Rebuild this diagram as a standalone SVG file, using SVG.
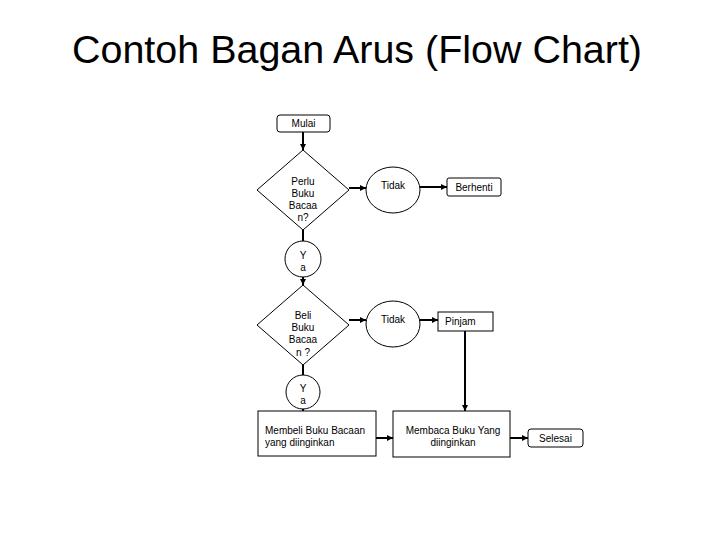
<svg xmlns="http://www.w3.org/2000/svg" width="720" height="540" viewBox="0 0 720 540">
<style>
.t{font-family:"Liberation Sans",Arial,sans-serif;font-size:10px;fill:#000}
.s{fill:#fff;stroke:#000;stroke-width:1}
.c{stroke:#000;stroke-width:2;fill:none}
</style>
<defs>
<marker id="ah" viewBox="0 0 6 6" refX="6" refY="3" markerWidth="6" markerHeight="6" markerUnits="userSpaceOnUse" orient="auto">
<path d="M0,0 L6,3 L0,6 Z" fill="#000"/>
</marker>
</defs>
<rect width="720" height="540" fill="#fff"/>
<text x="357" y="63" text-anchor="middle" font-family="Liberation Sans, Arial, sans-serif" font-size="38" textLength="570" lengthAdjust="spacingAndGlyphs">Contoh Bagan Arus (Flow Chart)</text>

<g id="connectors">
<line class="c" x1="303" y1="132" x2="303" y2="150" marker-end="url(#ah)"/>
<line class="c" x1="349" y1="188" x2="366" y2="188" marker-end="url(#ah)"/>
<line class="c" x1="420" y1="187" x2="447" y2="187" marker-end="url(#ah)"/>
<line class="c" x1="303" y1="230" x2="303" y2="241"/>
<line class="c" x1="303" y1="277" x2="303" y2="285" marker-end="url(#ah)"/>
<line class="c" x1="349" y1="320" x2="366" y2="320" marker-end="url(#ah)"/>
<line class="c" x1="419" y1="320" x2="438" y2="320" marker-end="url(#ah)"/>
<line class="c" x1="303" y1="365" x2="303" y2="375"/>
<line class="c" x1="303" y1="409" x2="303" y2="411" marker-end="url(#ah)"/>
<line class="c" x1="465" y1="331" x2="465" y2="411" marker-end="url(#ah)"/>
<line class="c" x1="376" y1="438" x2="393" y2="438" marker-end="url(#ah)"/>
<line class="c" x1="510" y1="438" x2="528" y2="438" marker-end="url(#ah)"/>
</g>

<g id="mulai">
<rect class="s" x="277" y="115" width="53" height="17" rx="3"/>
<text class="t" x="303.5" y="127" text-anchor="middle">Mulai</text>
</g>

<g id="perlu">
<polygon class="s" points="303,150 349,190 303,230 257,190"/>
<text class="t" x="303" y="185" text-anchor="middle">Perlu</text>
<text class="t" x="303" y="197" text-anchor="middle">Buku</text>
<text class="t" x="303" y="209" text-anchor="middle">Bacaa</text>
<text class="t" x="303" y="221" text-anchor="middle">n?</text>
</g>

<g id="tidak1">
<ellipse class="s" cx="393" cy="190" rx="27" ry="23"/>
<text class="t" x="393" y="189" text-anchor="middle">Tidak</text>
</g>

<g id="berhenti">
<rect class="s" x="447" y="178" width="54" height="18" rx="2"/>
<text class="t" x="474" y="191" text-anchor="middle">Berhenti</text>
</g>

<g id="ya1">
<circle class="s" cx="303" cy="259" r="18"/>
<text class="t" x="303" y="259" text-anchor="middle">Y</text>
<text class="t" x="303" y="271" text-anchor="middle">a</text>
</g>

<g id="beli">
<polygon class="s" points="303,285 349,325 303,365 257,325"/>
<text class="t" x="303" y="319" text-anchor="middle">Beli</text>
<text class="t" x="303" y="331" text-anchor="middle">Buku</text>
<text class="t" x="303" y="343" text-anchor="middle">Bacaa</text>
<text class="t" x="303" y="356" text-anchor="middle">n ?</text>
</g>

<g id="tidak2">
<ellipse class="s" cx="393" cy="324" rx="27" ry="23"/>
<text class="t" x="393" y="323" text-anchor="middle">Tidak</text>
</g>

<g id="pinjam">
<rect class="s" x="438" y="312" width="55" height="19"/>
<text class="t" x="445" y="325">Pinjam</text>
</g>

<g id="ya2">
<circle class="s" cx="303" cy="392" r="17"/>
<text class="t" x="303" y="392" text-anchor="middle">Y</text>
<text class="t" x="303" y="404" text-anchor="middle">a</text>
</g>

<g id="membeli">
<rect class="s" x="258" y="411" width="118" height="45"/>
<text class="t" x="265" y="434">Membeli Buku Bacaan</text>
<text class="t" x="265" y="446">yang diinginkan</text>
</g>

<g id="membaca">
<rect class="s" x="393" y="411" width="117" height="46"/>
<text class="t" x="453" y="434" text-anchor="middle">Membaca Buku Yang</text>
<text class="t" x="453" y="446" text-anchor="middle">diinginkan</text>
</g>

<g id="selesai">
<rect class="s" x="528" y="429" width="55" height="18" rx="3"/>
<text class="t" x="555.5" y="442" text-anchor="middle">Selesai</text>
</g>
</svg>
